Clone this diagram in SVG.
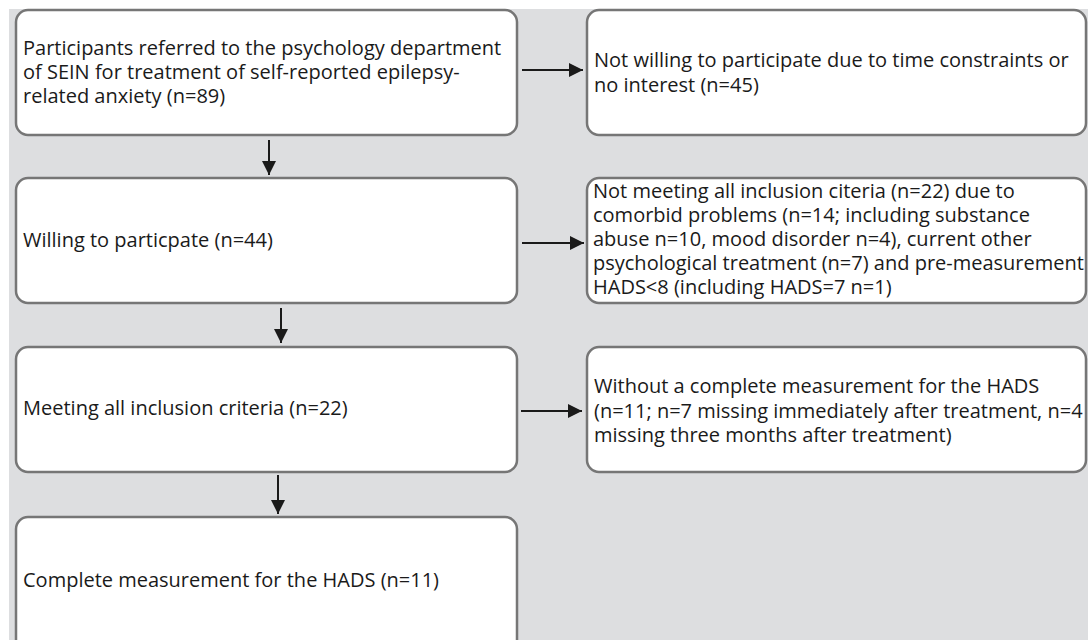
<svg xmlns="http://www.w3.org/2000/svg" width="1088" height="640" viewBox="0 0 1088 640">
<style>
.bx{fill:#ffffff;stroke:#767676;stroke-width:2.5}
.t{font-family:"Open Sans","Liberation Sans",sans-serif;font-size:20px;fill:#1a1a1a}
.c{stroke:#1a1a1a;stroke-width:2;fill:none}
</style>
<defs>
<marker id="ah" viewBox="0 0 10 10" refX="10" refY="5" markerWidth="14" markerHeight="14" markerUnits="userSpaceOnUse" orient="auto">
<path d="M0,0 L10,5 L0,10 Z" fill="#1a1a1a"/>
</marker>
</defs>
<rect x="0" y="0" width="1088" height="640" fill="#ffffff"/>
<rect x="9" y="9" width="1079" height="631" fill="#dddee0"/>
<g id="n1"><rect class="bx" x="16" y="10" width="501" height="125" rx="12"/>
<text class="t" x="23" y="55">Participants referred to the psychology department</text>
<text class="t" x="23" y="79">of SEIN for treatment of self-reported epilepsy-</text>
<text class="t" x="23" y="103">related anxiety (n=89)</text></g>
<g id="r1"><rect class="bx" x="587" y="10" width="499" height="125" rx="12"/>
<text class="t" x="594" y="67">Not willing to participate due to time constraints or</text>
<text class="t" x="594" y="92">no interest (n=45)</text></g>
<g id="n2"><rect class="bx" x="16" y="178" width="501" height="125" rx="12"/>
<text class="t" x="23" y="247">Willing to particpate (n=44)</text></g>
<g id="r2"><rect class="bx" x="587" y="178" width="499" height="125" rx="12"/>
<text class="t" x="593" y="198">Not meeting all inclusion citeria (n=22) due to</text>
<text class="t" x="593" y="222">comorbid problems (n=14; including substance</text>
<text class="t" x="593" y="246">abuse n=10, mood disorder n=4), current other</text>
<text class="t" x="593" y="270">psychological treatment (n=7) and pre-measurement</text>
<text class="t" x="593" y="294">HADS&lt;8 (including HADS=7 n=1)</text></g>
<g id="n3"><rect class="bx" x="16" y="347" width="501" height="125" rx="12"/>
<text class="t" x="23" y="415">Meeting all inclusion criteria (n=22)</text></g>
<g id="r3"><rect class="bx" x="587" y="347" width="499" height="125" rx="12"/>
<text class="t" x="594" y="393">Without a complete measurement for the HADS</text>
<text class="t" x="594" y="418">(n=11; n=7 missing immediately after treatment, n=4</text>
<text class="t" x="594" y="442">missing three months after treatment)</text></g>
<g id="n4"><rect class="bx" x="16" y="517" width="501" height="140" rx="12"/>
<text class="t" x="23" y="587">Complete measurement for the HADS (n=11)</text></g>
<g id="connectors">
<line class="c" x1="269" y1="140" x2="269" y2="175" marker-end="url(#ah)"/>
<line class="c" x1="281" y1="308" x2="281" y2="343" marker-end="url(#ah)"/>
<line class="c" x1="278" y1="475" x2="278" y2="514" marker-end="url(#ah)"/>
<line class="c" x1="522" y1="70" x2="583" y2="70" marker-end="url(#ah)"/>
<line class="c" x1="522" y1="243" x2="584" y2="243" marker-end="url(#ah)"/>
<line class="c" x1="521" y1="411" x2="582" y2="411" marker-end="url(#ah)"/>
</g>
</svg>
